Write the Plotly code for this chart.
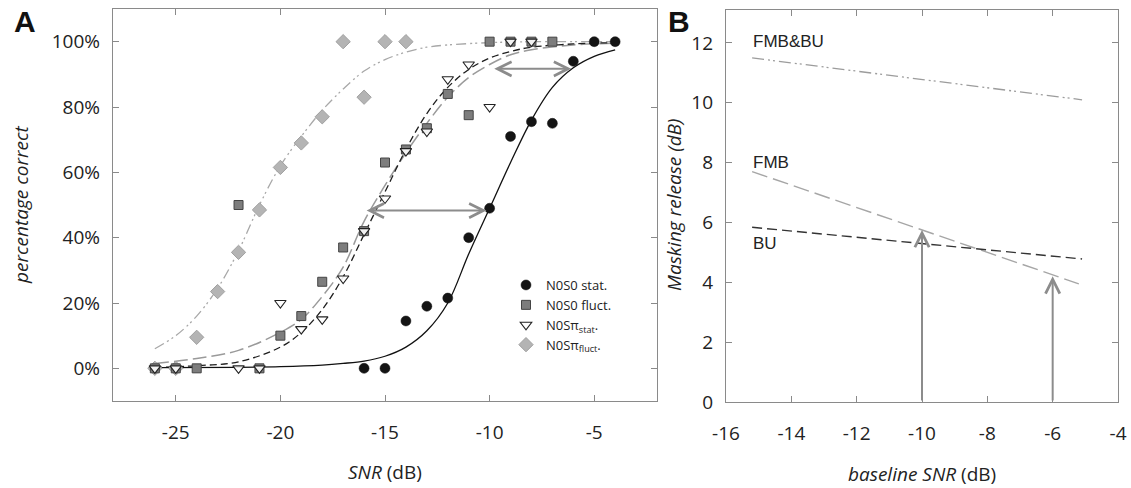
import plotly.graph_objects as go

# ---------------- Panel A data ----------------
stat_x = [-16, -15, -14, -13, -12, -11, -10, -9, -8, -7, -6, -5, -4]
stat_y = [0, 0, 14.5, 19, 21.5, 40, 49, 71, 75.5, 75, 94, 100, 100]

fluct_x = [-26, -25, -24, -22, -21, -20, -19, -18, -17, -16, -15, -14, -13, -12, -11, -10, -9, -8, -7]
fluct_y = [0, 0, 0, 50, 0, 10, 16, 26.5, 37, 42, 63, 67, 73.5, 84, 77.5, 100, 100, 100, 100]

pistat_x = [-26, -25, -22, -21, -20, -19, -18, -17, -16, -15, -14, -13, -12, -11, -10, -9, -8]
pistat_y = [0, 0, 0, 0, 20, 12, 15, 27.5, 42, 52, 66.5, 72.5, 88.5, 93, 80, 100, 100]

pifluct_x = [-26, -25, -24, -23, -22, -21, -20, -19, -18, -17, -16, -15, -14]
pifluct_y = [0, 0, 9.5, 23.5, 35.5, 48.5, 61.5, 69, 77, 100, 83, 100, 100]

# fitted psychometric curves
fit_stat_x = [-26, -22, -20, -18, -17, -16, -15, -14, -13, -12, -11, -10, -9, -8, -7, -6, -5, -4]
fit_stat_y = [0.2, 0.3, 0.5, 1, 1.5, 2.2, 3.7, 6.5, 11.5, 20, 35, 49, 63, 76, 86, 92, 95.5, 97.5]

fit_pistat_x = [-26, -24, -22, -20, -19, -18, -17, -16, -15, -14, -13, -12, -11, -10, -9, -8, -6, -4]
fit_pistat_y = [0.3, 0.8, 2, 6.5, 11, 18, 28, 41, 54, 67, 78, 86, 91.5, 95, 97, 98.3, 99.3, 99.7]

fit_fluct_x = [-26, -24, -22, -20, -19, -18, -17, -16, -15, -14, -13, -12, -11, -10, -9, -8, -6, -4]
fit_fluct_y = [1.5, 3, 5.5, 11, 15, 22, 31, 45, 56, 66, 75, 83, 89, 93, 96, 97.5, 99, 99.5]

fit_pifluct_x = [-26, -25, -24, -23, -22, -21, -20, -19, -18, -17, -16, -15, -14, -13, -12, -10, -8, -6, -4]
fit_pifluct_y = [6, 10, 16, 24.5, 36, 50, 62, 71, 79, 85.5, 91, 94.5, 96.8, 98.3, 99, 99.7, 100, 100, 100]

# horizontal masking-release arrows in A
arrowA_y = [91.7, 48.3]
arrowA_left = [-9.85, -15.95]
arrowA_right = [-6.1, -10.15]

snrA_ticks = [-25, -20, -15, -10, -5]
pctA_ticks = [0, 20, 40, 60, 80, 100]

# ---------------- Panel B data ----------------
fmbbu_x = [-15.2, -5.1]
fmbbu_y = [11.5, 10.1]
fmb_x = [-15.2, -5.2]
fmb_y = [7.7, 3.95]
bu_x = [-15.2, -5.1]
bu_y = [5.84, 4.78]

relB_arrow_x = [-10, -6]
relB_arrow_top = [5.75, 4.2]

snrB_ticks = [-16, -14, -12, -10, -8, -6, -4]
relB_ticks = [0, 2, 4, 6, 8, 10, 12]

W, H = 1131, 488
FONT = "Open Sans"
AX = "#8a8a8a"
TXT = "#222222"

def px(x):
    return x / W

def py(y):
    return 1 - y / H

fig = go.Figure()

# fitted curves A
fig.add_trace(go.Scatter(x=fit_pifluct_x, y=fit_pifluct_y, mode="lines", line_shape="spline",
                         line=dict(color="#a8a8a8", width=1.3, dash="10px,4px,2px,3px,2px,4px"),
                         showlegend=False, hoverinfo="skip"))
fig.add_trace(go.Scatter(x=fit_fluct_x, y=fit_fluct_y, mode="lines", line_shape="spline",
                         line=dict(color="#9a9a9a", width=1.5, dash="14px,5px"),
                         showlegend=False, hoverinfo="skip"))
fig.add_trace(go.Scatter(x=fit_pistat_x, y=fit_pistat_y, mode="lines", line_shape="spline",
                         line=dict(color="#1e1e1e", width=1.3, dash="7px,4px"),
                         showlegend=False, hoverinfo="skip"))
fig.add_trace(go.Scatter(x=fit_stat_x, y=fit_stat_y, mode="lines", line_shape="spline",
                         line=dict(color="#111111", width=1.3),
                         showlegend=False, hoverinfo="skip"))

# data points A
fig.add_trace(go.Scatter(x=pifluct_x, y=pifluct_y, mode="markers", name="N0S\u03c0<sub>fluct</sub>.",
                         legendrank=4,
                         marker=dict(symbol="diamond", size=11, color="#b4b4b4",
                                     line=dict(color="#a0a0a0", width=1))))
fig.add_trace(go.Scatter(x=fluct_x, y=fluct_y, mode="markers", name="N0S0 fluct.",
                         legendrank=2,
                         marker=dict(symbol="square", size=9, color="#7d7d7d",
                                     line=dict(color="#444444", width=1))))
fig.add_trace(go.Scatter(x=pistat_x, y=pistat_y, mode="markers", name="N0S\u03c0<sub>stat</sub>.",
                         legendrank=3,
                         marker=dict(symbol="triangle-down", size=10, color="rgba(255,255,255,0.9)",
                                     line=dict(color="#222222", width=1.1))))
fig.add_trace(go.Scatter(x=stat_x, y=stat_y, mode="markers", name="N0S0 stat.",
                         legendrank=1,
                         marker=dict(symbol="circle", size=10, color="#141414",
                                     line=dict(color="#141414", width=0.5))))

# panel B lines
fig.add_trace(go.Scatter(x=fmbbu_x, y=fmbbu_y, mode="lines", xaxis="x2", yaxis="y2",
                         line=dict(color="#9c9c9c", width=1.3, dash="12px,4px,2px,3px,2px,4px"),
                         showlegend=False, hoverinfo="skip"))
fig.add_trace(go.Scatter(x=fmb_x, y=fmb_y, mode="lines", xaxis="x2", yaxis="y2",
                         line=dict(color="#a6a6a6", width=1.4, dash="16px,6px"),
                         showlegend=False, hoverinfo="skip"))
fig.add_trace(go.Scatter(x=bu_x, y=bu_y, mode="lines", xaxis="x2", yaxis="y2",
                         line=dict(color="#333333", width=1.4, dash="10px,5px"),
                         showlegend=False, hoverinfo="skip"))

annotations = []
# double arrows A
for yv, xl, xr in zip(arrowA_y, arrowA_left, arrowA_right):
    annotations.append(dict(x=xr, y=yv, ax=xl, ay=yv, xref="x", yref="y", axref="x", ayref="y",
                            text="", showarrow=True, arrowhead=5, startarrowhead=5,
                            arrowside="end+start", arrowsize=1.4, startarrowsize=1.4,
                            arrowwidth=2, arrowcolor="#8c8c8c"))
# vertical arrows B
for xv, yt in zip(relB_arrow_x, relB_arrow_top):
    annotations.append(dict(x=xv, y=yt, ax=xv, ay=0, xref="x2", yref="y2", axref="x2", ayref="y2",
                            text="", showarrow=True, arrowhead=5, arrowsize=1.4,
                            arrowwidth=2, arrowcolor="#8c8c8c"))

# model labels in B
for label, yv in [("FMB&amp;BU", 12.05), ("FMB", 8.0), ("BU", 5.3)]:
    annotations.append(dict(x=-15.25, y=yv, xref="x2", yref="y2", text=label, showarrow=False,
                            xanchor="left", yanchor="middle",
                            font=dict(family="Liberation Sans, Arial", size=17, color=TXT)))

# panel letters
annotations.append(dict(x=px(12), y=py(22), xref="paper", yref="paper", text="<b>A</b>",
                        showarrow=False, xanchor="left", yanchor="middle",
                        font=dict(family="Liberation Sans, Arial", size=30, color="#111")))
annotations.append(dict(x=px(666), y=py(22), xref="paper", yref="paper", text="<b>B</b>",
                        showarrow=False, xanchor="left", yanchor="middle",
                        font=dict(family="Liberation Sans, Arial", size=30, color="#111")))

# axis titles
annotations.append(dict(x=px(385), y=py(472), xref="paper", yref="paper",
                        text="<i>SNR</i> (dB)", showarrow=False, xanchor="center", yanchor="middle",
                        font=dict(family=FONT, size=19, color=TXT)))
annotations.append(dict(x=px(922), y=py(474), xref="paper", yref="paper",
                        text="<i>baseline SNR</i> (dB)", showarrow=False, xanchor="center", yanchor="middle",
                        font=dict(family=FONT, size=19, color=TXT)))
annotations.append(dict(x=px(21), y=py(205), xref="paper", yref="paper",
                        text="<i>percentage correct</i>", showarrow=False, textangle=-90,
                        xanchor="center", yanchor="middle",
                        font=dict(family=FONT, size=19, color=TXT)))
annotations.append(dict(x=px(674), y=py(205), xref="paper", yref="paper",
                        text="<i>Masking release (dB)</i>", showarrow=False, textangle=-90,
                        xanchor="center", yanchor="middle",
                        font=dict(family=FONT, size=19, color=TXT)))

axis_common = dict(showline=True, linecolor=AX, linewidth=1.3, mirror="ticks", ticks="inside",
                   ticklen=6, tickwidth=1.2, tickcolor=AX, showgrid=False, zeroline=False,
                   automargin=False,
                   tickfont=dict(family=FONT, size=19, color=TXT))

fig.update_layout(
    width=W, height=H,
    margin=dict(l=0, r=0, t=0, b=0, autoexpand=False),
    paper_bgcolor="white", plot_bgcolor="white",
    font=dict(family=FONT, color=TXT),
    xaxis=dict(domain=[px(113), px(657)], range=[-28, -2], anchor="y",
               tickvals=snrA_ticks, ticktext=[str(v) for v in snrA_ticks],
               ticklabelstandoff=14, **axis_common),
    yaxis=dict(domain=[py(401), py(9)], range=[-10, 110], anchor="x",
               tickvals=pctA_ticks, ticktext=[f"{v}%" for v in pctA_ticks],
               ticklabelstandoff=8, **axis_common),
    xaxis2=dict(domain=[px(726), px(1118)], range=[-16, -4], anchor="y2",
                tickvals=snrB_ticks, ticktext=[str(v) for v in snrB_ticks],
                ticklabelstandoff=14, **axis_common),
    yaxis2=dict(domain=[py(402), py(10)], range=[0, 13.1], anchor="x2",
                tickvals=relB_ticks, ticktext=[str(v) for v in relB_ticks],
                ticklabelstandoff=8, **axis_common),
    legend=dict(x=px(506), y=py(270), xanchor="left", yanchor="top",
                bgcolor="rgba(0,0,0,0)",
                font=dict(family=FONT, size=13, color=TXT), tracegroupgap=0),
    annotations=annotations,
    showlegend=True,
)

fig.write_html("out.html",
               config={"displayModeBar": False},
               post_script="document.body.style.margin='0';document.body.style.overflow='hidden';")
